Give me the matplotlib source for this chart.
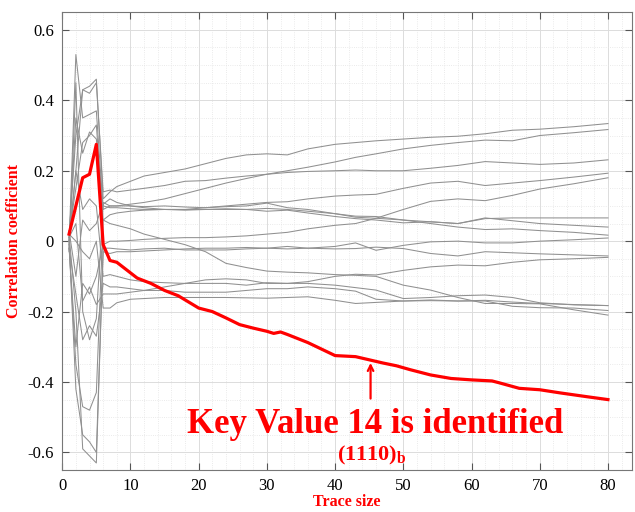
import numpy as np
import matplotlib
matplotlib.use("Agg")
import matplotlib.pyplot as plt
from matplotlib.ticker import MultipleLocator

plt.rcParams['font.family'] = ['Liberation Serif', 'DejaVu Serif']
plt.rcParams['mathtext.fontset'] = 'custom'
plt.rcParams['mathtext.rm'] = 'Liberation Serif'
plt.rcParams['mathtext.bf'] = 'Liberation Serif:bold'

# trace sizes at which the gray (wrong key) curves were read
x_gray = [1, 2, 3, 4, 5, 6, 7, 8, 10, 12, 15, 18, 21, 24, 27, 30, 33, 36,
          40, 43, 46, 50, 54, 58, 62, 66, 70, 75, 80]

gray_1 = [0.0, 0.2, 0.43, 0.44, 0.46, 0.12, 0.14, 0.155, 0.17, 0.185, 0.195, 0.205, 0.22, 0.235, 0.245, 0.248, 0.245, 0.262, 0.275, 0.28, 0.285, 0.29, 0.295, 0.298, 0.305, 0.315, 0.318, 0.325, 0.334]
gray_2 = [-0.01, 0.53, 0.35, 0.36, 0.37, 0.09, 0.1, 0.1, 0.105, 0.11, 0.12, 0.135, 0.15, 0.165, 0.178, 0.19, 0.2, 0.21, 0.225, 0.238, 0.248, 0.262, 0.272, 0.28, 0.287, 0.285, 0.3, 0.308, 0.317]
gray_3 = [0.01, 0.3, 0.43, 0.42, 0.45, 0.14, 0.145, 0.14, 0.145, 0.15, 0.158, 0.17, 0.172, 0.179, 0.185, 0.19, 0.195, 0.198, 0.2, 0.202, 0.2, 0.2, 0.207, 0.215, 0.226, 0.222, 0.218, 0.222, 0.231]
gray_4 = [0.02, 0.15, 0.28, 0.3, 0.33, 0.06, 0.075, 0.08, 0.085, 0.088, 0.09, 0.09, 0.095, 0.1, 0.105, 0.11, 0.112, 0.12, 0.128, 0.131, 0.133, 0.15, 0.165, 0.17, 0.158, 0.165, 0.172, 0.182, 0.193]
gray_5 = [-0.02, -0.3, -0.12, -0.15, -0.1, -0.01, 0.0, 0.0, 0.002, 0.005, 0.008, 0.01, 0.01, 0.012, 0.015, 0.02, 0.025, 0.035, 0.045, 0.05, 0.065, 0.09, 0.113, 0.12, 0.115, 0.13, 0.148, 0.163, 0.18]
gray_6 = [0.0, 0.35, 0.25, 0.31, 0.29, 0.1, 0.095, 0.095, 0.092, 0.09, 0.09, 0.088, 0.09, 0.09, 0.09, 0.085, 0.088, 0.08, 0.07, 0.064, 0.06, 0.052, 0.055, 0.05, 0.064, 0.066, 0.066, 0.066, 0.066]
gray_7 = [0.03, -0.1, 0.06, 0.03, 0.05, 0.11, 0.1, 0.1, 0.1, 0.098, 0.1, 0.097, 0.095, 0.098, 0.1, 0.108, 0.095, 0.09, 0.078, 0.068, 0.065, 0.06, 0.055, 0.05, 0.066, 0.058, 0.05, 0.045, 0.04]
gray_8 = [-0.03, 0.45, -0.2, -0.28, -0.22, 0.105, 0.12, 0.11, 0.1, 0.095, 0.09, 0.09, 0.09, 0.092, 0.09, 0.093, 0.09, 0.085, 0.078, 0.071, 0.07, 0.06, 0.05, 0.04, 0.033, 0.035, 0.03, 0.025, 0.017]
gray_9 = [0.0, -0.42, -0.55, -0.57, -0.6, -0.03, -0.035, -0.03, -0.03, -0.028, -0.025, -0.022, -0.02, -0.02, -0.018, -0.02, -0.022, -0.02, -0.015, -0.005, -0.026, -0.012, -0.002, 0.0, -0.005, -0.005, 0.0, 0.004, 0.009]
gray_10 = [0.02, -0.2, -0.59, -0.61, -0.63, -0.02, -0.02, -0.022, -0.025, -0.022, -0.02, -0.025, -0.025, -0.025, -0.022, -0.02, -0.015, -0.02, -0.022, -0.021, -0.017, -0.021, -0.035, -0.042, -0.03, -0.033, -0.036, -0.039, -0.042]
gray_11 = [0.01, 0.05, -0.17, -0.13, -0.18, -0.15, -0.15, -0.15, -0.145, -0.14, -0.13, -0.12, -0.11, -0.107, -0.11, -0.12, -0.12, -0.115, -0.1, -0.094, -0.096, -0.083, -0.073, -0.068, -0.07, -0.06, -0.053, -0.05, -0.046]
gray_12 = [-0.01, -0.35, -0.47, -0.48, -0.43, 0.06, 0.05, 0.045, 0.035, 0.02, 0.005, -0.01, -0.03, -0.063, -0.075, -0.085, -0.088, -0.09, -0.095, -0.097, -0.1, -0.125, -0.139, -0.16, -0.177, -0.177, -0.178, -0.195, -0.21]
gray_13 = [0.0, 0.2, 0.09, 0.12, 0.1, -0.1, -0.095, -0.1, -0.11, -0.115, -0.118, -0.12, -0.12, -0.12, -0.125, -0.118, -0.12, -0.12, -0.125, -0.132, -0.139, -0.163, -0.16, -0.155, -0.153, -0.16, -0.175, -0.181, -0.183]
gray_14 = [-0.02, -0.15, -0.28, -0.24, -0.27, -0.12, -0.13, -0.13, -0.135, -0.14, -0.14, -0.145, -0.145, -0.145, -0.14, -0.135, -0.135, -0.13, -0.135, -0.142, -0.165, -0.17, -0.167, -0.17, -0.17, -0.185, -0.189, -0.19, -0.197]
gray_15 = [0.02, 0.0, -0.03, -0.05, 0.0, -0.19, -0.19, -0.175, -0.165, -0.163, -0.16, -0.16, -0.16, -0.16, -0.161, -0.162, -0.16, -0.158, -0.168, -0.177, -0.174, -0.17, -0.169, -0.17, -0.168, -0.173, -0.177, -0.18, -0.183]

gray_curves = [gray_1, gray_2, gray_3, gray_4, gray_5, gray_6, gray_7, gray_8,
               gray_9, gray_10, gray_11, gray_12, gray_13, gray_14, gray_15]

# correct key (14) curve
x_key = [1, 2, 3, 4, 5, 6, 7, 8, 9, 11, 13, 15, 17, 20, 22, 24, 26, 28, 30, 31,
         32, 33, 36, 40, 43, 45, 47, 49, 51, 54, 57, 60, 63, 64, 67, 70, 73, 77, 80]
y_key = [0.02, 0.1, 0.18, 0.19, 0.275, -0.01, -0.055, -0.06, -0.075, -0.105,
         -0.12, -0.14, -0.155, -0.19, -0.2, -0.218, -0.237, -0.247, -0.256, -0.262,
         -0.258, -0.265, -0.288, -0.325, -0.328, -0.337, -0.346, -0.354, -0.365,
         -0.38, -0.39, -0.394, -0.397, -0.402, -0.418, -0.422, -0.431, -0.442, -0.45]

fig = plt.figure(figsize=(6.35, 5.12), dpi=100)
ax = fig.add_axes([0.098, 0.082, 0.897, 0.894])

for g in gray_curves:
    ax.plot(x_gray, g, color='#909090', lw=0.75)
ax.plot(x_key, y_key, color='red', lw=2.3)

ax.set_xlim(0, 83.5)
ax.set_ylim(-0.65, 0.65)
ax.xaxis.set_major_locator(MultipleLocator(10))
ax.xaxis.set_minor_locator(MultipleLocator(2))
ax.yaxis.set_minor_locator(MultipleLocator(0.05))
ax.set_yticks([-0.6, -0.4, -0.2, 0, 0.2, 0.4, 0.6])
ax.set_yticklabels(['-0.6', '-0.4', '-0.2', '0', '0.2', '0.4', '0.6'])

ax.grid(which='major', color='#dcdcdc', lw=0.7)
ax.grid(which='minor', color='#e3e3e3', lw=0.6, ls=':')
ax.set_axisbelow(True)
ax.tick_params(which='major', direction='in', length=5, top=True, right=True,
               labelsize=12, color='#555555', width=0.8)
ax.tick_params(axis='x', which='major', pad=6)
ax.tick_params(axis='y', which='major', pad=6)
ax.tick_params(which='minor', length=0)
for s in ax.spines.values():
    s.set_color('#777777')
    s.set_linewidth(0.8)

ax.set_xlabel('Trace size', color='red', fontweight='bold', fontsize=11.5, labelpad=0)
ax.set_ylabel('Correlation coefficient', color='red', fontweight='bold', fontsize=11.5, labelpad=4)

ax.annotate('', xy=(45.2, -0.338), xytext=(45.2, -0.455),
            arrowprops=dict(arrowstyle='->', color='red', lw=1.6))
ax.text(45.9, -0.52, 'Key Value 14 is identified', color='red', fontweight='bold',
        fontsize=25, ha='center', va='center')
ax.text(45.3, -0.608, r'$\mathbf{(1110)_b}$', color='red', fontsize=16,
        ha='center', va='center')

fig.savefig('out.png', dpi=100)
